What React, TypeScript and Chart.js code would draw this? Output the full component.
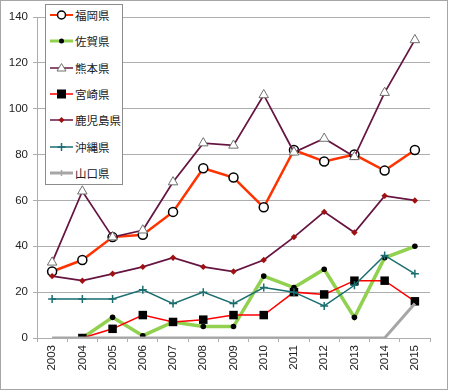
import React, { useEffect, useRef } from "react";
import { Chart, registerables } from "chart.js";

Chart.register(...registerables);

const years = ["2003", "2004", "2005", "2006", "2007", "2008", "2009", "2010", "2011", "2012", "2013", "2014", "2015"];
const fukuoka = [29, 34, 44, 45, 55, 74, 70, 57, 82, 77, 80, 73, 82];
const saga = [null, 0, 9, 1, 7, 5, 5, 27, 22, 30, 9, 35, 40];
const kumamoto = [33, 64, 44, 47, 68, 85, 84, 106, 81, 87, 79, 107, 130];
const miyazaki = [null, 0, 4, 10, 7, 8, 10, 10, 20, 19, 25, 25, 16];
const kagoshima = [27, 25, 28, 31, 35, 31, 29, 34, 44, 55, 46, 62, 60];
const okinawa = [17, 17, 17, 21, 15, 20, 15, 22, 20, 14, 23, 36, 28];
const yamaguchi = [0, 0, 0, 0, 0, 0, 0, 0, 0, 0, 0, 0, 15];
const seriesNames = ["福岡県", "佐賀県", "熊本県", "宮崎県", "鹿児島県", "沖縄県", "山口県"];
const yTicks = [0, 20, 40, 60, 80, 100, 120, 140];

const C_FUK = "#FF3300";
const C_SAGA = "#92D050";
const C_KUM = "#661440";
const C_MIY = "#FF0000";
const C_KAG = "#661440";
const C_KAG_PT = "#A01010";
const C_OKI = "#1A6E70";
const C_YAM = "#A6A6A6";
const GRID = "#ADADAD";

function LegendSymbol({ idx }: { idx: number }) {
  const w = 23, h = 14, cx = 11.5, cy = 7;
  let line = "#000", lw = 1.5, marker: React.ReactNode = null;
  switch (idx) {
    case 0:
      line = C_FUK; lw = 2;
      marker = <circle cx={cx} cy={cy} r={4} fill="#fff" stroke="#000" strokeWidth={1.5} />;
      break;
    case 1:
      line = C_SAGA; lw = 3;
      marker = <circle cx={cx} cy={cy} r={2.5} fill="#000" />;
      break;
    case 2:
      line = C_KUM; lw = 1.5;
      marker = <polygon points={`${cx},${cy - 4.5} ${cx + 4.5},${cy + 3} ${cx - 4.5},${cy + 3}`} fill="#fff" stroke="#707070" strokeWidth={1} />;
      break;
    case 3:
      line = C_MIY; lw = 1.5;
      marker = <rect x={cx - 4.5} y={cy - 4.5} width={9} height={9} fill="#000" />;
      break;
    case 4:
      line = C_KAG; lw = 1.5;
      marker = <polygon points={`${cx},${cy - 3} ${cx + 3},${cy} ${cx},${cy + 3} ${cx - 3},${cy}`} fill={C_KAG_PT} />;
      break;
    case 5:
      line = C_OKI; lw = 1.5;
      marker = <path d={`M${cx - 4} ${cy} H${cx + 4} M${cx} ${cy - 4} V${cy + 4}`} stroke={C_OKI} strokeWidth={1.5} />;
      break;
    case 6:
      line = C_YAM; lw = 3;
      marker = <path d={`M${cx - 3} ${cy} H${cx + 3} M${cx} ${cy - 3} V${cy + 3}`} stroke={C_YAM} strokeWidth={1.5} />;
      break;
  }
  return (
    <svg width={w} height={h} style={{ display: "block" }}>
      <line x1={0} y1={cy} x2={w} y2={cy} stroke={line} strokeWidth={lw} />
      {marker}
    </svg>
  );
}

export default function App() {
  const ref = useRef<HTMLCanvasElement>(null);

  useEffect(() => {
    if (!ref.current) return;
    Chart.defaults.font.family = "'Liberation Sans', Arial, sans-serif";
    const n = 7;
    const chart = new Chart(ref.current, {
      type: "line",
      data: {
        labels: years,
        datasets: [
          {
            label: seriesNames[0], data: fukuoka, borderColor: C_FUK, borderWidth: 2.5,
            pointStyle: "circle", pointRadius: 4.5, pointBackgroundColor: "#fff",
            pointBorderColor: "#000", pointBorderWidth: 1.5, order: n - 0,
          },
          {
            label: seriesNames[1], data: saga, borderColor: C_SAGA, borderWidth: 3.5,
            pointStyle: "circle", pointRadius: 2.8, pointBackgroundColor: "#000",
            pointBorderColor: "#000", pointBorderWidth: 0, order: n - 1,
          },
          {
            label: seriesNames[2], data: kumamoto, borderColor: C_KUM, borderWidth: 1.75,
            pointStyle: "triangle", pointRadius: 5.5, pointBackgroundColor: "#fff",
            pointBorderColor: "#707070", pointBorderWidth: 1, order: n - 2,
          },
          {
            label: seriesNames[3], data: miyazaki, borderColor: C_MIY, borderWidth: 1.5,
            pointStyle: "rect", pointRadius: 6, pointBackgroundColor: "#000",
            pointBorderColor: "#000", pointBorderWidth: 0, order: n - 3,
          },
          {
            label: seriesNames[4], data: kagoshima, borderColor: C_KAG, borderWidth: 1.75,
            pointStyle: "rectRot", pointRadius: 3.2, pointBackgroundColor: C_KAG_PT,
            pointBorderColor: C_KAG_PT, pointBorderWidth: 0, order: n - 4,
          },
          {
            label: seriesNames[5], data: okinawa, borderColor: C_OKI, borderWidth: 1.5,
            pointStyle: "cross", pointRadius: 4, pointBackgroundColor: C_OKI,
            pointBorderColor: C_OKI, pointBorderWidth: 1.5, order: n - 5,
          },
          {
            label: seriesNames[6], data: yamaguchi, borderColor: C_YAM, borderWidth: 3,
            pointStyle: "cross", pointRadius: 0, pointBackgroundColor: C_YAM,
            pointBorderColor: C_YAM, pointBorderWidth: 1, order: n - 6,
          },
        ],
      },
      options: {
        responsive: false,
        animation: false,
        events: [],
        layout: { padding: { top: 16, right: 17, left: 0, bottom: 0 } },
        plugins: { legend: { display: false }, tooltip: { enabled: false } },
        elements: { line: { tension: 0 } },
        scales: {
          x: {
            type: "category",
            offset: true,
            grid: {
              offset: true,
              drawOnChartArea: false,
              drawTicks: true,
              tickLength: 4,
              color: GRID,
            },
            border: { color: GRID, width: 1 },
            ticks: {
              minRotation: 90,
              maxRotation: 90,
              autoSkip: false,
              padding: 3,
              color: "#222",
              font: { size: 11.5 },
            },
            afterFit: (s: any) => { s.height = 51; },
          },
          y: {
            min: 0,
            max: 140,
            afterBuildTicks: (s: any) => { s.ticks = yTicks.map((v) => ({ value: v })); },
            grid: { color: GRID, tickLength: 4, drawTicks: true },
            border: { color: GRID, width: 1 },
            ticks: { padding: 5, color: "#222", font: { size: 11.5 } },
            afterFit: (s: any) => { s.width = 36; },
          },
        },
      },
    } as any);
    return () => chart.destroy();
  }, []);

  const rowCenters = [10, 36.3, 62.6, 88.9, 115.2, 141.5, 167.8];

  return (
    <div
      style={{
        position: "absolute",
        left: 0,
        top: 0,
        width: 448,
        height: 390,
        boxSizing: "border-box",
        border: "1px solid #A6A6A6",
        background: "#fff",
      }}
    >
      <canvas ref={ref} width={446} height={388} style={{ display: "block", width: 446, height: 388 }} />
      <div
        style={{
          position: "absolute",
          left: 44,
          top: 3,
          width: 78,
          height: 181,
          boxSizing: "border-box",
          border: "1px solid #8C8C8C",
          background: "#fff",
        }}
      >
        {seriesNames.map((name, i) => (
          <div
            key={name}
            style={{
              position: "absolute",
              left: 4,
              top: rowCenters[i] - 8,
              height: 16,
              display: "flex",
              alignItems: "center",
              whiteSpace: "nowrap",
            }}
          >
            <LegendSymbol idx={i} />
            <span
              style={{
                marginLeft: 2,
                fontFamily: "'Noto Sans CJK JP', sans-serif",
                fontSize: 11.5,
                color: "#222",
                lineHeight: "16px",
              }}
            >
              {name}
            </span>
          </div>
        ))}
      </div>
    </div>
  );
}
